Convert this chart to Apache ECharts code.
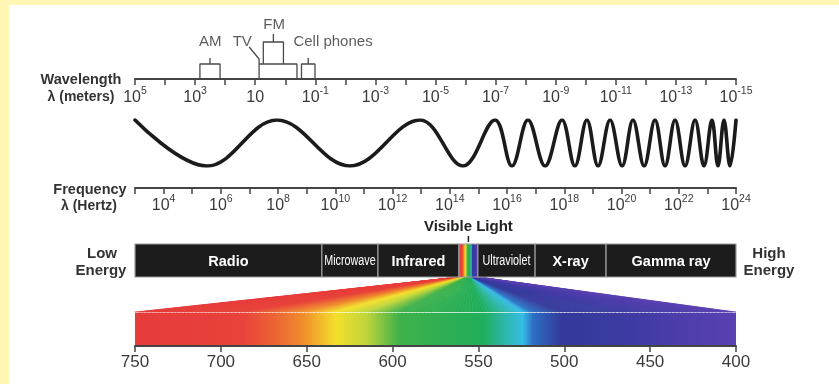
<!DOCTYPE html>
<html>
<head>
<meta charset="utf-8">
<title>Electromagnetic spectrum</title>
<script src="https://cdn.jsdelivr.net/npm/echarts@6/dist/echarts.min.js"></script>
<style>
html,body{margin:0;padding:0;background:#ffffff;}
#chart{width:839px;height:384px;}
</style>
</head>
<body>
<div id="chart"></div>
<script>
// ---------------- data ----------------
const wavelengthRange = [-15, 5];                       // log10(metres)
const wavelengthLabelExps = [5, 3, 1, -1, -3, -5, -7, -9, -11, -13, -15];
const frequencyRange = [3, 24];                         // log10(Hz)
const frequencyLabelExps = [4, 6, 8, 10, 12, 14, 16, 18, 20, 22, 24];
const visibleNmTicks = [750, 700, 650, 600, 550, 500, 450, 400];

const radioBandNames = ['AM', 'TV', 'FM', 'Cell phones'];
const radioBandFromLogM = [2.84, 0.87, 0.73, -0.54];
const radioBandToLogM = [2.17, -0.39, 0.06, -0.99];

// peaks / troughs of the illustrative wave, read off the frequency scale
const waveExtremaLogHz = [3.00, 5.52, 7.96, 10.51, 12.96, 14.46, 15.58, 16.17, 16.73, 17.33,
  17.92, 18.37, 18.79, 19.18, 19.60, 20.02, 20.40, 20.79, 21.17, 21.52,
  21.87, 22.22, 22.57, 22.88, 23.16, 23.37, 23.58, 23.79, 24.00];
const waveExtremaLevel = [1, -1, 1, -1, 1, -1, 1, -1, 1, -1,
  1, -1, 1, -1, 1, -1, 1, -1, 1, -1,
  1, -1, 1, -1, 1, -1, 1, -1, 1];

const bandNames = ['Radio', 'Microwave', 'Infrared', 'Visible Light', 'Ultraviolet', 'X-ray', 'Gamma ray'];
const bandEdgesLogHz = [3, 9.53, 11.49, 14.32, 14.98, 16.98, 19.46, 24];

// ---------------- layout & style ----------------
const FONT = "'Liberation Sans', Arial, Helvetica, sans-serif";
const INK = '#333333';
const AXIS = '#444444';
const GRID_X = { left: 135, width: 601 };
const BR = { base: 15, amStem: 21, tvPost: 20, tvDiag: [1.20, 32], fmTop: 37, fmStem: 45,
  labelX: [2.50, 1.43, 0.37, -1.59], labelY: [37, 37, 54, 37] };
const LOW = { bandTop: 102, bandBottom: 69, funnelTop: 69, funnelBottom: 34, rectTop: 33, rectBottom: 0 };
const spectrumStops = [
  [0.00, '#e63b3b'], [0.18, '#e8423b'], [0.24, '#ec6a33'], [0.28, '#f08e2c'],
  [0.335, '#f3e02b'], [0.385, '#bfd53a'], [0.44, '#3fb14a'], [0.58, '#1fae5b'],
  [0.61, '#2bb6a0'], [0.645, '#35bde6'], [0.662, '#2c6fc4'], [0.71, '#34399a'],
  [0.81, '#3c3aa2'], [1.00, '#5b40b2']
];

function hexToRgb(h) { return [parseInt(h.slice(1,3),16), parseInt(h.slice(3,5),16), parseInt(h.slice(5,7),16)]; }
function colorAt(t) {
  for (let i = 0; i < spectrumStops.length - 1; i++) {
    const a = spectrumStops[i], b = spectrumStops[i+1];
    if (t >= a[0] && t <= b[0]) {
      const f = (t - a[0]) / (b[0] - a[0] || 1);
      const ca = hexToRgb(a[1]), cb = hexToRgb(b[1]);
      return 'rgb(' + ca.map((v, k) => Math.round(v + (cb[k] - v) * f)).join(',') + ')';
    }
  }
  return spectrumStops[spectrumStops.length - 1][1];
}
function spectrumGradient() {
  return new echarts.graphic.LinearGradient(0, 0, 1, 0,
    spectrumStops.map(s => ({ offset: s[0], color: s[1] })));
}

function powLabel(exps, v) {
  const e = Math.round(v);
  if (Math.abs(v - e) > 1e-6 || exps.indexOf(e) < 0) return '';
  return e === 1 ? '{b|10}' : '{b|10}{e|' + e + '}';
}
const richPow = {
  b: { fontSize: 16, fontFamily: FONT, color: '#3a3a3a', lineHeight: 20, verticalAlign: 'bottom' },
  e: { fontSize: 10.5, fontFamily: FONT, color: '#3a3a3a', lineHeight: 20, verticalAlign: 'top' }
};

// bracket polylines built from the radio band ranges
const bracketSeries = [];
radioBandNames.forEach((name, i) => {
  const a = radioBandFromLogM[i], b = radioBandToLogM[i], m = (a + b) / 2;
  let lines;
  if (name === 'TV') {
    lines = [[BR.tvDiag, [a, BR.tvPost], [a, 0]], [[a, BR.base], [b, BR.base], [b, 0]]];
  } else if (name === 'FM') {
    lines = [[[a, BR.base], [a, BR.fmTop], [b, BR.fmTop], [b, BR.base]], [[m, BR.fmTop], [m, BR.fmStem]]];
  } else {
    lines = [[[a, 0], [a, BR.base], [b, BR.base], [b, 0]], [[m, BR.base], [m, BR.amStem]]];
  }
  lines.forEach(pts => bracketSeries.push({
    type: 'line', xAxisIndex: 0, yAxisIndex: 0, data: pts, symbol: 'none', silent: true,
    lineStyle: { color: '#4a4a4a', width: 1.3 }, z: 3
  }));
});

function textEl(text, x, y, font, fill) {
  return { type: 'text', x: x, y: y, silent: true,
    style: { text: text, font: font, fill: fill || INK, align: 'center', verticalAlign: 'middle',
      textAlign: 'center', textVerticalAlign: 'middle' } };
}

const chart = echarts.init(document.getElementById('chart'), null, { renderer: 'canvas' });

const option = {
  animation: false,
  backgroundColor: '#ffffff',
  grid: [
    { left: GRID_X.left, width: GRID_X.width, top: 19, height: 60, containLabel: false, outerBoundsMode: 'none' },
    { left: GRID_X.left, width: GRID_X.width, top: 120, height: 46, containLabel: false, outerBoundsMode: 'none' },
    { left: GRID_X.left, width: GRID_X.width, top: 244, height: 102, containLabel: false, outerBoundsMode: 'none' }
  ],
  xAxis: [
    { gridIndex: 0, type: 'value', min: wavelengthRange[0], max: wavelengthRange[1], interval: 1, inverse: true,
      axisLine: { show: true, onZero: false, lineStyle: { color: AXIS, width: 2 } },
      axisTick: { show: true, length: 6, lineStyle: { color: AXIS, width: 1.5 } },
      axisLabel: { margin: 7, formatter: v => powLabel(wavelengthLabelExps, v), rich: richPow, showMinLabel: true, showMaxLabel: true },
      splitLine: { show: false } },
    { gridIndex: 1, type: 'value', min: frequencyRange[0], max: frequencyRange[1], interval: 1, offset: 22,
      axisLine: { show: true, onZero: false, lineStyle: { color: AXIS, width: 2 } },
      axisTick: { show: true, length: 6, lineStyle: { color: AXIS, width: 1.5 } },
      axisLabel: { margin: 6, formatter: v => powLabel(frequencyLabelExps, v), rich: richPow, showMinLabel: true, showMaxLabel: true },
      splitLine: { show: false } },
    { gridIndex: 2, type: 'value', min: visibleNmTicks[visibleNmTicks.length - 1], max: visibleNmTicks[0], interval: 50, inverse: true,
      axisLine: { show: true, onZero: false, lineStyle: { color: AXIS, width: 2 } },
      axisTick: { show: true, length: 6, lineStyle: { color: AXIS, width: 1.5 } },
      axisLabel: { margin: 8, fontSize: 17, fontFamily: FONT, color: '#3a3a3a',
        formatter: v => visibleNmTicks.indexOf(v) >= 0 ? String(v) : '' },
      splitLine: { show: false }, z: 5 },
    { gridIndex: 2, type: 'value', min: frequencyRange[0], max: frequencyRange[1], show: false }
  ],
  yAxis: [
    { gridIndex: 0, type: 'value', min: 0, max: 60, show: false },
    { gridIndex: 1, type: 'value', min: -1, max: 1, show: false },
    { gridIndex: 2, type: 'value', min: 0, max: 102, show: false }
  ],
  graphic: [
    { type: 'rect', shape: { x: 0, y: 0, width: 839, height: 5 }, style: { fill: '#fff6b4' }, silent: true },
    { type: 'rect', shape: { x: 0, y: 0, width: 9, height: 384 }, style: { fill: '#fff6b4' }, silent: true },
    textEl('Wavelength', 81, 80, 'bold 14.5px ' + FONT),
    textEl('λ (meters)', 81, 97, 'bold 14px ' + FONT),
    textEl('Frequency', 90, 190, 'bold 14.5px ' + FONT),
    textEl('λ (Hertz)', 89, 206, 'bold 14px ' + FONT),
    textEl('Low', 102, 254, 'bold 15px ' + FONT),
    textEl('Energy', 101, 271, 'bold 15px ' + FONT),
    textEl('High', 769, 254, 'bold 15px ' + FONT),
    textEl('Energy', 769, 271, 'bold 15px ' + FONT)
  ],
  series: bracketSeries.concat([
    { type: 'scatter', xAxisIndex: 0, yAxisIndex: 0, symbolSize: 1, silent: true,
      itemStyle: { color: 'rgba(0,0,0,0)' },
      data: radioBandNames.map((n, i) => [BR.labelX[i], BR.labelY[i], n]),
      label: { show: true, position: 'inside', formatter: p => p.value[2],
        fontSize: 15, fontFamily: FONT, color: INK } },
    { type: 'line', xAxisIndex: 1, yAxisIndex: 1, symbol: 'none', smooth: 0.38, silent: true,
      data: waveExtremaLogHz.map((x, i) => [x, waveExtremaLevel[i]]),
      lineStyle: { color: '#1b1b1b', width: 3.6, cap: 'round' } },
    { type: 'custom', xAxisIndex: 3, yAxisIndex: 2, clip: false, silent: true, z: 4,
      data: bandNames.map((n, i) => [bandEdgesLogHz[i], bandEdgesLogHz[i + 1], i]),
      renderItem: (params, api) => {
        const i = api.value(2);
        const p0 = api.coord([api.value(0), LOW.bandTop]);
        const p1 = api.coord([api.value(1), LOW.bandBottom]);
        const x = p0[0], y = p0[1], w = p1[0] - p0[0], h = p1[1] - p0[1];
        const cx = x + w / 2, cy = y + h / 2;
        const name = bandNames[i];
        const isVisible = name === 'Visible Light';
        const children = [{ type: 'rect', shape: { x: x, y: y, width: w, height: h },
          style: { fill: isVisible ? spectrumGradient() : '#1c1c1c', stroke: '#9a9a9a', lineWidth: 1.2 } }];
        if (isVisible) {
          children.push({ type: 'line', shape: { x1: cx, y1: y - 8, x2: cx, y2: y - 2 },
            style: { stroke: '#222', lineWidth: 1.5 } });
          children.push({ type: 'text', style: { text: name, x: cx, y: y - 17, align: 'center', verticalAlign: 'middle',
            fill: '#222', font: 'bold 15px ' + FONT } });
        } else {
          const narrow = name === 'Microwave' || name === 'Ultraviolet';
          children.push({ type: 'text', x: cx, y: cy + 1, scaleX: narrow ? 0.77 : 1,
            style: { text: name, x: 0, y: 0, align: 'center', verticalAlign: 'middle',
            fill: '#ffffff', font: narrow ? '14px ' + FONT : 'bold 14.5px ' + FONT } });
        }
        return { type: 'group', children: children };
      } },
    { type: 'custom', xAxisIndex: 2, yAxisIndex: 2, clip: false, silent: true, z: 3,
      data: [[visibleNmTicks[0], visibleNmTicks[visibleNmTicks.length - 1]]],
      renderItem: (params, api) => {
        const nmL = api.value(0), nmR = api.value(1);
        const visIdx = bandNames.indexOf('Visible Light');
        const toNm = f => nmL + (f - frequencyRange[0]) / (frequencyRange[1] - frequencyRange[0]) * (nmR - nmL);
        const topL = api.coord([toNm(bandEdgesLogHz[visIdx]), LOW.funnelTop]);
        const topR = api.coord([toNm(bandEdgesLogHz[visIdx + 1]), LOW.funnelTop]);
        const botL = api.coord([nmL, LOW.funnelBottom]);
        const botR = api.coord([nmR, LOW.funnelBottom]);
        const r0 = api.coord([nmL, LOW.rectTop]);
        const r1 = api.coord([nmR, LOW.rectBottom]);
        const children = [];
        const N = 160;
        for (let k = 0; k < N; k++) {
          const t0 = k / N, t1 = (k + 1) / N;
          const bx0 = botL[0] + (botR[0] - botL[0]) * t0, bx1 = botL[0] + (botR[0] - botL[0]) * t1;
          const tx0 = topL[0] + (topR[0] - topL[0]) * t0, tx1 = topL[0] + (topR[0] - topL[0]) * t1;
          const c = colorAt((t0 + t1) / 2);
          children.push({ type: 'polygon', shape: { points: [[bx0, botL[1]], [tx0, topL[1]], [tx1, topL[1]], [bx1, botL[1]]] },
            style: { fill: c, stroke: c, lineWidth: 0.6 } });
        }
        children.push({ type: 'rect', shape: { x: r0[0], y: r0[1], width: r1[0] - r0[0], height: r1[1] - r0[1] },
          style: { fill: spectrumGradient() } });
        return { type: 'group', children: children };
      } }
  ])
};
chart.setOption(option);
</script>
</body>
</html>
